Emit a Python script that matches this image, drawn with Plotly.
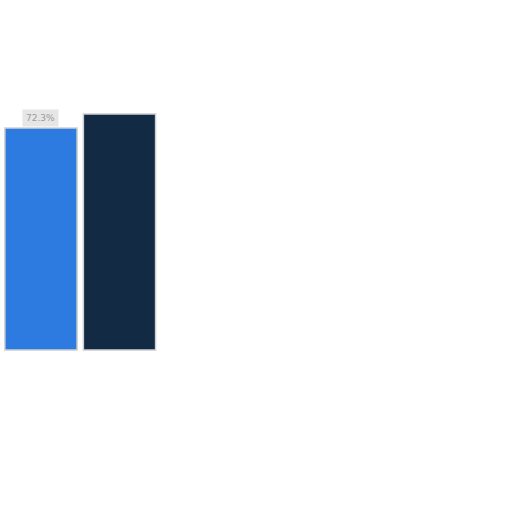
import plotly.graph_objects as go

# values
categories = ["A", "B"]
values = [72.3, 76.9]
colors = ["#2d7ae0", "#132a45"]
labels = ["72.3%", ""]

fig = go.Figure()

fig.add_trace(go.Bar(
    x=[0, 1],
    y=values,
    width=0.92,
    marker=dict(color=colors, line=dict(color="#d0d0d0", width=1.5)),
    hoverinfo="skip",
))

# percentage tag above the first bar
fig.add_annotation(
    x=0, y=values[0], text=labels[0], showarrow=False,
    yanchor="bottom", yshift=1,
    font=dict(family="DejaVu Sans", size=9, color="#9a9a9a"),
    bgcolor="#e6e6e6", borderpad=3,
)

fig.update_layout(
    width=512, height=512,
    margin=dict(l=0, r=0, t=0, b=0),
    plot_bgcolor="white", paper_bgcolor="white",
    showlegend=False,
    xaxis=dict(range=[-0.522, 6.0], visible=False),
    yaxis=dict(range=[-52.8, 114.0], visible=False),
)

# drop the page's default body margin so the chart fills the window
fig.write_html("out.html", config={"displayModeBar": False},
               post_script="document.body.style.margin='0';")
